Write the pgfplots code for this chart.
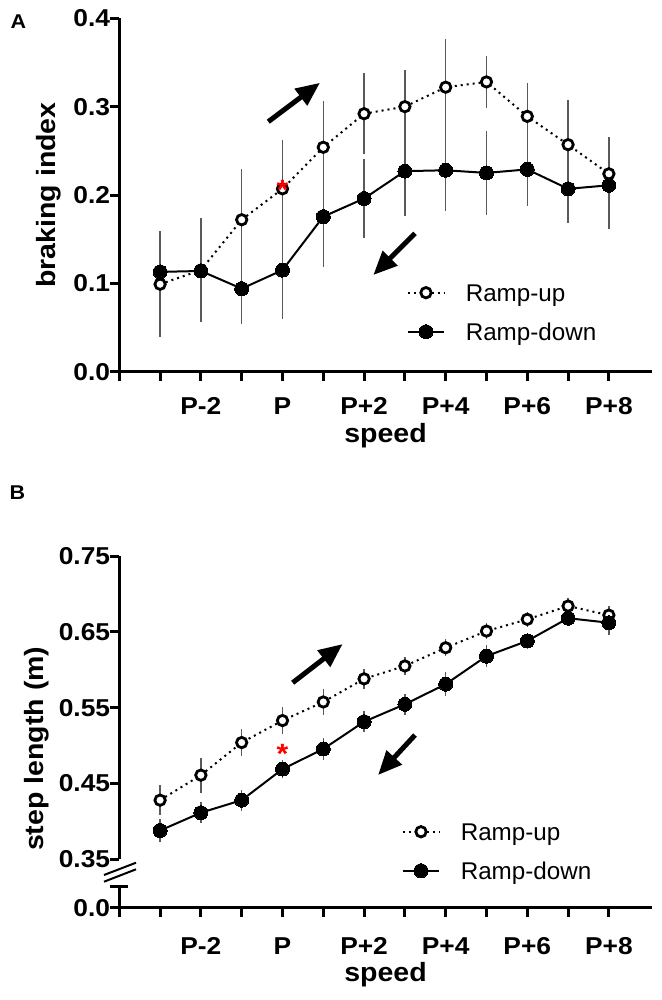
\documentclass[border=0pt]{standalone}
\usepackage{fontspec}
\setmainfont{Liberation Sans}
\newfontfamily\bsans{Liberation Sans}[FakeStretch=1.08]
\usepackage{pgfplots}
\pgfplotsset{compat=1.18}
\usepackage{pgfplotstable}
\usetikzlibrary{arrows.meta}

\pgfplotstableread{
x y e
-3 0.099 0.060
-2 0.115 0.059
-1 0.172 0.057
0 0.207 0.055
1 0.254 0.052
2 0.292 0.046
3 0.300 0.042
4 0.322 0.055
5 0.328 0.029
6 0.289 0.038
7 0.257 0.051
8 0.224 0.042
}\upA
\pgfplotstableread{
x y e
-3 0.113 0.042
-2 0.114 0.055
-1 0.094 0.040
0 0.115 0.055
1 0.1755 0.057
2 0.196 0.045
3 0.227 0.051
4 0.228 0.046
5 0.225 0.048
6 0.229 0.041
7 0.207 0.039
8 0.211 0.050
}\downA
\pgfplotstableread{
x y e
-3 0.428 0.020
-2 0.461 0.023
-1 0.504 0.018
0 0.533 0.018
1 0.5575 0.017
2 0.588 0.013
3 0.605 0.012
4 0.629 0.011
5 0.651 0.011
6 0.6665 0.010
7 0.684 0.010
8 0.672 0.012
}\upB
\pgfplotstableread{
x y e
-3 0.388 0.015
-2 0.4115 0.014
-1 0.428 0.014
0 0.469 0.012
1 0.4955 0.014
2 0.5315 0.014
3 0.5545 0.014
4 0.581 0.016
5 0.618 0.014
6 0.638 0.010
7 0.668 0.008
8 0.662 0.016
}\downB

\newcommand\tickfont{\bsans\bfseries\fontsize{24.5}{24.5}\selectfont}
\newcommand\labfont{\bsans\bfseries\fontsize{26.5}{26.5}\selectfont}

\pgfplotsset{
  panel/.style={
    scale only axis, width=532.4bp,
    xmin=-4, xmax=9.05,
    axis x line=bottom, axis y line=left,
    axis line style={-, line width=3.5bp, black},
    tick align=outside,
    major tick length=9bp,
    xtick={-4,...,8},
    xticklabels={,,P-2,,P,,P+2,,P+4,,P+6,,P+8},
    every tick/.style={line width=3bp, black},
    xticklabel style={font=\tickfont, inner sep=0pt},
    yticklabel style={font=\tickfont, inner sep=0pt, anchor=east},
    xlabel={speed},
    ylabel style={font=\labfont, anchor=center, rotate=0},
    xlabel style={font=\labfont, anchor=base, at={(axis description cs:0.5,0)}},
    clip=false,
    legend cell align=left,
    legend image code/.code={\draw[mark repeat=2,mark phase=2,##1] plot coordinates {(0bp,0bp) (18.3bp,0bp) (36.6bp,0bp)};},
    legend style={draw=none, fill=none, inner sep=0pt, outer sep=0pt, row sep=13.8bp, column sep=20.5bp, anchor=north west,
      nodes={inner sep=0pt, text height=21bp, text depth=4.2bp, font=\fontsize{24.3}{25}\selectfont}},
  },
  ebar/.style={forget plot, only marks, mark=none, error bars/.cd, y dir=both, y explicit, error mark=none,
    error bar style={line width=1.4bp, black!65}},
  upst/.style={black, line width=2bp, dash pattern=on 2bp off 4bp, mark=*, mark size=5.2bp,
    mark options={solid, fill=white, draw=black, line width=2.8bp}},
  downst/.style={black, line width=2bp, mark=*, mark size=7bp, mark options={solid, fill=black, draw=black, line width=0pt}},
}

\begin{document}
\begin{tikzpicture}
\path[use as bounding box] (0,0) rectangle (662bp,-1000bp);

% Panel A
\begin{axis}[panel, at={(119.3bp,-371.7bp)}, anchor=south west, height=353.4bp,
  ymin=0, ymax=0.4, ytick={0,0.1,0.2,0.3,0.4}, yticklabels={0.0,0.1,0.2,0.3,0.4},
  xticklabel style={yshift=-17bp},
  ylabel={braking index}, ylabel style={at={(axis description cs:-0.132,0.5)}},
  xlabel style={yshift=-71bp},
  legend style={at={(axis cs:3.044,0.1037)}}]
\addplot[ebar] table[x=x,y=y,y error=e]{\upA};
\addplot[ebar] table[x=x,y=y,y error=e]{\downA};
\addplot[upst] table[x=x,y=y]{\upA};
\addplot[downst] table[x=x,y=y]{\downA};
\legend{Ramp-up,Ramp-down}
\draw[line width=5bp, -{Triangle[length=24bp,width=20bp]}] (axis cs:-0.348,0.283) -- (axis cs:0.919,0.327);
\draw[line width=5bp, -{Triangle[length=24bp,width=20bp]}] (axis cs:3.248,0.1566) -- (axis cs:2.225,0.1094);
\coordinate (starA) at (axis cs:0,0.2125);
\end{axis}

% Panel B
\begin{axis}[panel, at={(119.3bp,-907.7bp)}, anchor=south west, height=351.7bp,
  ymin=0.2862, ymax=0.75, ytick={0.2862,0.35,0.45,0.55,0.65,0.75}, yticklabels={0.0,0.35,0.45,0.55,0.65,0.75},
  y axis line style={draw=none},
  xticklabel style={yshift=-21bp},
  ylabel={step length (m)}, ylabel style={at={(axis description cs:-0.155,0.452)}},
  xlabel style={yshift=-73.3bp},
  legend style={at={(axis cs:2.922,0.403)}}]
\addplot[ebar] table[x=x,y=y,y error=e]{\upB};
\addplot[ebar] table[x=x,y=y,y error=e]{\downB};
\addplot[upst] table[x=x,y=y]{\upB};
\addplot[downst] table[x=x,y=y]{\downB};
\legend{Ramp-up,Ramp-down}
\draw[line width=3.5bp] (axis cs:-4,0.35) -- (axis cs:-4,0.75);
\draw[line width=3.5bp] (axis cs:-4,0.2862) -- (axis cs:-4,0.3148);
\draw[line width=3bp] ([xshift=-9bp]axis cs:-4,0.3148) -- ([xshift=9bp]axis cs:-4,0.3148);
\draw[line width=5bp, -{Triangle[length=24bp,width=20bp]}] (axis cs:0.25,0.5829) -- (axis cs:1.475,0.6339);
\draw[line width=5bp, -{Triangle[length=24bp,width=20bp]}] (axis cs:3.248,0.5139) -- (axis cs:2.343,0.4612);
\coordinate (starB) at (axis cs:0,0.4977);
\end{axis}

\node[text=red, font=\bsans\bfseries\fontsize{28}{28}\selectfont, anchor=base, yshift=-16bp, inner sep=0pt] at (starA) {*};
\node[text=red, font=\bsans\bfseries\fontsize{28}{28}\selectfont, anchor=base, yshift=-16bp, inner sep=0pt] at (starB) {*};

\draw[line width=2bp] (104bp,-875bp) -- (136bp,-862.7bp);
\draw[line width=2bp] (104bp,-881.7bp) -- (136bp,-869.3bp);

\node[font=\bsans\bfseries\fontsize{20}{20}\selectfont, inner sep=0pt] at (18.5bp,-21.5bp) {A};
\node[font=\bsans\bfseries\fontsize{20}{20}\selectfont, inner sep=0pt] at (17.5bp,-492.5bp) {B};
\end{tikzpicture}
\end{document}
